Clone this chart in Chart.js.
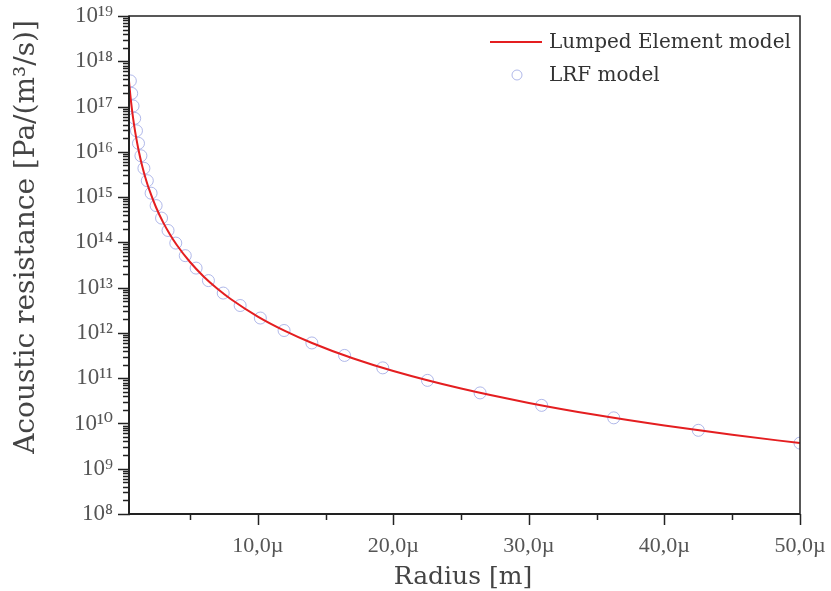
<!DOCTYPE html>
<html>
<head>
<meta charset="utf-8">
<script src="https://cdn.jsdelivr.net/npm/chart.js@4.4.1/dist/chart.umd.min.js"></script>
<style>
  html, body { margin: 0; padding: 0; background: #fff; }
  #wrap { width: 831px; height: 591px; }
</style>
</head>
<body>
<div id="wrap"><canvas id="chart" width="831" height="591"></canvas></div>
<script>
// ---- data (radius in metres, resistance in Pa/(m^3/s)) ----
const lumpedRadius = [0.5e-6, 0.6e-6, 0.7e-6, 0.8e-6, 0.9e-6, 1e-6, 1.2e-6, 1.4e-6, 1.6e-6, 1.8e-6,
  2e-6, 2.5e-6, 3e-6, 3.5e-6, 4e-6, 5e-6, 6e-6, 7e-6, 8e-6, 10e-6,
  12e-6, 14e-6, 17e-6, 20e-6, 25e-6, 30e-6, 35e-6, 40e-6, 45e-6, 50e-6];
const lumpedR = [3.68e17, 1.77e17, 9.58e16, 5.62e16, 3.51e16, 2.30e16, 1.11e16, 5.99e15, 3.51e15, 2.19e15,
  1.44e15, 5.89e14, 2.84e14, 1.53e14, 8.98e13, 3.68e13, 1.77e13, 9.58e12, 5.62e12, 2.30e12,
  1.11e12, 5.99e11, 2.75e11, 1.44e11, 5.89e10, 2.84e10, 1.53e10, 8.98e9, 5.61e9, 3.68e9];

const lrfRadius = [0.6e-6, 0.7e-6, 0.8e-6, 0.92e-6, 1.05e-6, 1.2e-6, 1.38e-6, 1.6e-6, 1.85e-6, 2.13e-6,
  2.5e-6, 2.9e-6, 3.38e-6, 3.95e-6, 4.65e-6, 5.45e-6, 6.36e-6, 7.45e-6, 8.7e-6, 10.19e-6,
  11.94e-6, 13.99e-6, 16.40e-6, 19.22e-6, 22.52e-6, 26.40e-6, 30.94e-6, 36.26e-6, 42.5e-6, 50e-6];
const lrfR = [3.68e17, 1.95e17, 1.03e17, 5.48e16, 2.91e16, 1.54e16, 8.18e15, 4.33e15, 2.30e15, 1.22e15,
  6.49e14, 3.44e14, 1.83e14, 9.64e13, 5.09e13, 2.70e13, 1.43e13, 7.59e12, 4.03e12, 2.13e12,
  1.13e12, 6.00e11, 3.18e11, 1.69e11, 8.94e10, 4.73e10, 2.51e10, 1.33e10, 7.05e9, 3.68e9];

const xTicks = [10e-6, 20e-6, 30e-6, 40e-6, 50e-6];
const xMinorTicks = [5e-6, 15e-6, 25e-6, 35e-6, 45e-6];
const yExponents = [8, 9, 10, 11, 12, 13, 14, 15, 16, 17, 18, 19];

const seriesNames = ['Lumped Element model', 'LRF model'];
const lineColor = '#e41e20';
const circleColor = 'rgba(150,160,225,0.75)';
const FONT = "'DejaVu Serif', serif";
const NUM_FONT = "'Liberation Serif', 'DejaVu Serif', serif";

const sup = { '0': '\u2070', '1': '\u00b9', '2': '\u00b2', '3': '\u00b3', '4': '\u2074',
  '5': '\u2075', '6': '\u2076', '7': '\u2077', '8': '\u2078', '9': '\u2079' };
const powLabel = e => '10' + String(e).split('').map(c => sup[c]).join('');

// frame, tick marks, titles, legend
const decorations = {
  id: 'decorations',
  afterDraw(chart) {
    const { ctx, chartArea: a, scales } = chart;
    const xs = scales.x, ys = scales.y;
    ctx.save();
    ctx.strokeStyle = '#222';

    // y tick marks (log minor 2..9)
    ctx.lineWidth = 1.5;
    yExponents.forEach(e => {
      for (let m = 1; m <= 9; m++) {
        if (e === 19 && m > 1) break;
        const py = Math.round(ys.getPixelForValue(m * Math.pow(10, e))) + 0.5;
        const len = m === 1 ? 11 : 6;
        ctx.beginPath();
        ctx.moveTo(a.left - len, py);
        ctx.lineTo(a.left + 1, py);
        ctx.stroke();
      }
    });
    // x tick marks
    xTicks.forEach(v => {
      const px = Math.round(xs.getPixelForValue(v)) + 0.5;
      ctx.beginPath(); ctx.moveTo(px, a.bottom); ctx.lineTo(px, a.bottom + 11); ctx.stroke();
    });
    xMinorTicks.forEach(v => {
      const px = Math.round(xs.getPixelForValue(v)) + 0.5;
      ctx.beginPath(); ctx.moveTo(px, a.bottom); ctx.lineTo(px, a.bottom + 6); ctx.stroke();
    });

    // frame
    ctx.lineWidth = 1.5;
    ctx.strokeRect(a.left, a.top, a.right - a.left, a.bottom - a.top);
    ctx.lineWidth = 2;
    ctx.beginPath();
    ctx.moveTo(a.left, a.top); ctx.lineTo(a.left, a.bottom); ctx.lineTo(a.right, a.bottom);
    ctx.stroke();

    // axis titles
    ctx.fillStyle = '#444';
    ctx.textAlign = 'center';
    ctx.textBaseline = 'middle';
    ctx.font = '25px ' + FONT;
    ctx.fillText('Radius [m]', 463, 577);
    ctx.save();
    ctx.translate(27, 237);
    ctx.rotate(-Math.PI / 2);
    ctx.font = '28px ' + FONT;
    ctx.fillText('Acoustic resistance [Pa/(m\u00b3/s)]', 0, 0);
    ctx.restore();

    // legend
    ctx.font = '20px ' + FONT;
    ctx.textAlign = 'left';
    ctx.fillStyle = '#333';
    ctx.strokeStyle = lineColor;
    ctx.lineWidth = 2;
    ctx.beginPath(); ctx.moveTo(490, 42); ctx.lineTo(542, 42); ctx.stroke();
    ctx.fillText(chart.data.datasets[0].label, 549, 43);
    ctx.strokeStyle = circleColor;
    ctx.lineWidth = 1;
    ctx.beginPath(); ctx.arc(517, 75, 5, 0, Math.PI * 2); ctx.stroke();
    ctx.fillText(chart.data.datasets[1].label, 549, 76);
    ctx.restore();
  }
};

new Chart(document.getElementById('chart'), {
  type: 'scatter',
  data: {
    datasets: [
      {
        label: seriesNames[0],
        data: lumpedRadius.map((r, i) => ({ x: r, y: lumpedR[i] })),
        showLine: true,
        borderColor: lineColor,
        borderWidth: 2,
        pointRadius: 0,
        cubicInterpolationMode: 'monotone'
      },
      {
        label: seriesNames[1],
        data: lrfRadius.map((r, i) => ({ x: r, y: lrfR[i] })),
        showLine: false,
        pointStyle: 'circle',
        pointRadius: 6,
        pointBorderWidth: 1,
        pointBorderColor: circleColor,
        pointBackgroundColor: 'rgba(0,0,0,0)'
      }
    ]
  },
  options: {
    responsive: false,
    animation: false,
    layout: { padding: { left: 0, top: 16, right: 31, bottom: 0 } },
    plugins: { legend: { display: false }, tooltip: { enabled: false } },
    scales: {
      x: {
        type: 'linear',
        min: 0.5e-6,
        max: 50e-6,
        border: { display: false },
        grid: { display: true, drawOnChartArea: false, drawTicks: true, tickLength: 8, color: 'rgba(0,0,0,0)' },
        afterBuildTicks: s => { s.ticks = xTicks.map(v => ({ value: v })); },
        afterFit: s => { s.height = 77; s.paddingLeft = 0; s.paddingRight = 0; },
        ticks: {
          autoSkip: false,
          maxRotation: 0,
          padding: 11,
          color: '#555',
          font: { family: NUM_FONT, size: 22 },
          callback: v => (v * 1e6).toFixed(1).replace('.', ',') + '\u00b5'
        }
      },
      y: {
        type: 'logarithmic',
        min: 1e8,
        max: 1e19,
        border: { display: false },
        grid: { display: true, drawOnChartArea: false, drawTicks: true, tickLength: 8, color: 'rgba(0,0,0,0)' },
        afterBuildTicks: s => { s.ticks = yExponents.map(e => ({ value: Math.pow(10, e) })); },
        afterFit: s => { s.width = 129; s.paddingTop = 0; s.paddingBottom = 0; },
        ticks: {
          autoSkip: false,
          padding: 8,
          color: '#555',
          font: { family: NUM_FONT, size: 23 },
          callback: v => powLabel(Math.round(Math.log10(v)))
        }
      }
    }
  },
  plugins: [decorations]
});
</script>
</body>
</html>
